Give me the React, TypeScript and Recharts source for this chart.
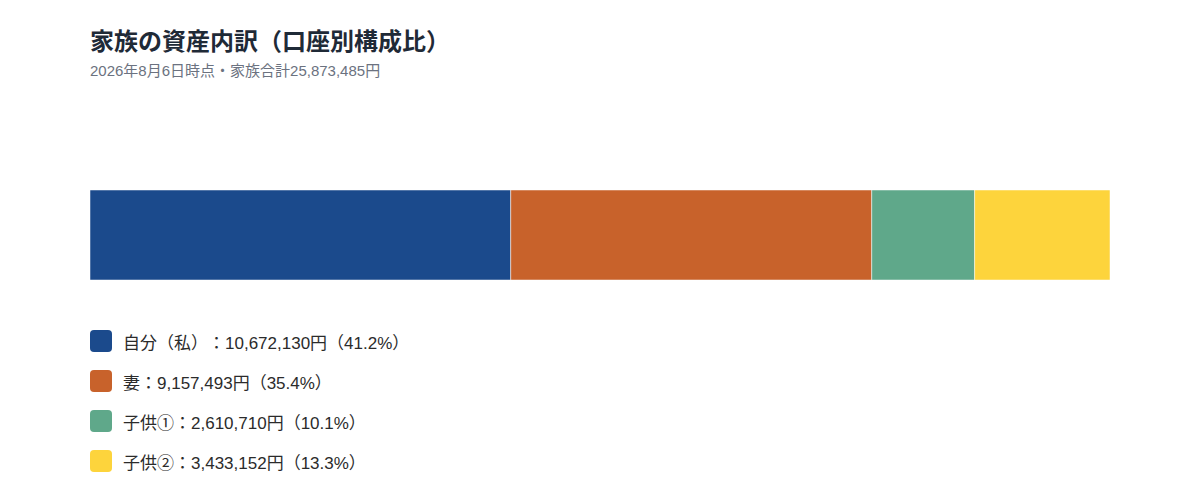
import React from 'react';
import { BarChart, Bar, XAxis, YAxis } from 'recharts';

const members = ['自分（私）', '妻', '子供①', '子供②'];
const seriesKeys = ['self', 'wife', 'child1', 'child2'];
const amounts = [10672130, 9157493, 2610710, 3433152];
const percents = ['41.2', '35.4', '10.1', '13.3'];
const colors = ['#1b4a8c', '#c8622b', '#5fa88a', '#fdd43c'];

const totalLabel = '2026年8月6日時点・家族合計25,873,485円';
const title = '家族の資産内訳（口座別構成比）';

const FONT = '"Liberation Sans", "Noto Sans CJK JP", sans-serif';

const total = amounts.reduce((s, v) => s + v, 0);

// 1行だけの積み上げデータ
const row: Record<string, number | string> = { name: '家族' };
seriesKeys.forEach((k, i) => {
  row[k] = amounts[i];
});
const chartData = [row];

export default function App() {
  return (
    <div
      style={{
        position: 'absolute',
        left: 0,
        top: 0,
        width: 1200,
        height: 480,
        background: '#ffffff',
        fontFamily: FONT,
        // 全角括弧の詰めを無効化
        textSpacingTrim: 'space-all',
      } as React.CSSProperties}
    >
      <div
        style={{
          position: 'absolute',
          left: 90,
          top: 26,
          fontSize: 24,
          fontWeight: 700,
          color: '#1f2a37',
          lineHeight: '32px',
          whiteSpace: 'nowrap',
        }}
      >
        {title}
      </div>
      <div
        style={{
          position: 'absolute',
          left: 90,
          top: 61,
          fontSize: 15,
          color: '#6b7280',
          lineHeight: '20px',
          whiteSpace: 'nowrap',
        }}
      >
        {totalLabel}
      </div>
      <div style={{ position: 'absolute', left: 0, top: 0 }}>
        <BarChart
          width={1200}
          height={480}
          data={chartData}
          layout="vertical"
          margin={{ top: 190, right: 90, bottom: 200, left: 90 }}
          barCategoryGap={0}
        >
          <XAxis type="number" domain={[0, total]} hide />
          <YAxis type="category" dataKey="name" hide />
          {seriesKeys.map((k, i) => (
            <Bar
              key={k}
              dataKey={k}
              name={members[i]}
              stackId="family"
              fill={colors[i]}
              stroke="#ffffff"
              strokeWidth={0.5}
              isAnimationActive={false}
            />
          ))}
        </BarChart>
      </div>
      <div style={{ position: 'absolute', left: 90, top: 321 }}>
        {members.map((m, i) => (
          <div
            key={m}
            style={{ display: 'flex', alignItems: 'center', height: 40 }}
          >
            <span
              style={{
                display: 'inline-block',
                width: 22,
                height: 22,
                borderRadius: 4,
                background: colors[i],
                marginRight: 11,
              }}
            />
            <span style={{ fontSize: 17, color: '#2b2b2b', whiteSpace: 'nowrap' }}>
              {`${m}：${amounts[i].toLocaleString('ja-JP')}円（${percents[i]}%）`}
            </span>
          </div>
        ))}
      </div>
    </div>
  );
}
